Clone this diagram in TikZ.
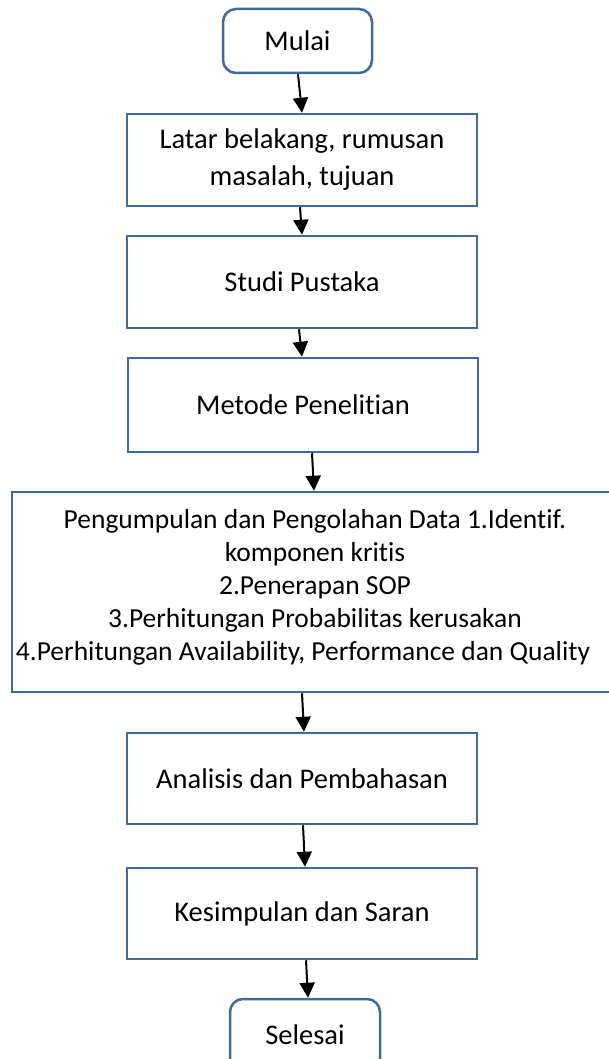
\documentclass[tikz,border=0pt]{standalone}
\usepackage{fontspec}
\setmainfont[Ligatures={NoCommon}]{Carlito}
\usetikzlibrary{arrows.meta}
\definecolor{boxblue}{RGB}{65,106,152}
\tikzset{
  flowbox/.style={draw=boxblue, line width=2.5pt, fill=white, rectangle, align=center, inner sep=0pt,
    font=\fontsize{28.5}{37}\selectfont},
  termbox/.style={flowbox, rounded corners=13pt},
  arr/.style={draw=black, line width=2pt, -{Triangle[length=15pt,width=15pt]}, shorten >=0pt},
}
\begin{document}
\begin{tikzpicture}[x=1pt,y=-1pt]
\useasboundingbox[fill=white] (0,0) rectangle (608,1059);
\node[termbox, minimum width=149pt, minimum height=64pt] (mulai) at (297.5,41) {Mulai};
\node[flowbox, minimum width=350pt, minimum height=92pt] (b1) at (302,160) {\raisebox{-3pt}{\parbox{340pt}{\centering Latar belakang, rumusan\\masalah, tujuan}}};
\node[flowbox, minimum width=350pt, minimum height=92pt] (b2) at (302,282) {\raisebox{-3pt}{Studi Pustaka}};
\node[flowbox, minimum width=350pt, minimum height=94pt] (b3) at (303,405) {Metode Penelitian};
\node[flowbox, minimum width=606pt, minimum height=200pt] (b4) at (315,592) {};
\node[align=center, inner sep=0pt, font=\fontsize{27.5}{33}\selectfont] (b4t) at ([yshift=5pt]b4.center)
  {Pengumpulan dan Pengolahan Data 1.Identif.\\komponen kritis\\2.Penerapan SOP\\3.Perhitungan Probabilitas kerusakan\\4.Perhitungan Availability, Performance dan Quality\hspace*{24pt}};
\node[flowbox, minimum width=350pt, minimum height=91pt] (b5) at (302,778.5) {Analisis dan Pembahasan};
\node[flowbox, minimum width=350pt, minimum height=91pt] (b6) at (302,913.5) {Kesimpulan dan Saran};
\node[termbox, minimum width=150pt, minimum height=72pt] (selesai) at (305,1035) {Selesai};
\draw[arr] ([xshift=0.5pt]mulai.south) -- (b1.north);
\draw[arr] ([xshift=-2pt]b1.south) -- (b2.north);
\draw[arr] ([xshift=-3pt]b2.south) -- ([xshift=-1pt]b3.north);
\draw[arr] ([xshift=9pt]b3.south) -- ([xshift=-1pt]b4.north);
\draw[arr] ([xshift=-13pt]b4.south) -- ([xshift=2pt]b5.north);
\draw[arr] ([xshift=1pt]b5.south) -- ([xshift=3pt]b6.north);
\draw[arr] ([xshift=4pt]b6.south) -- ([xshift=3pt]selesai.north);
\end{tikzpicture}
\end{document}
